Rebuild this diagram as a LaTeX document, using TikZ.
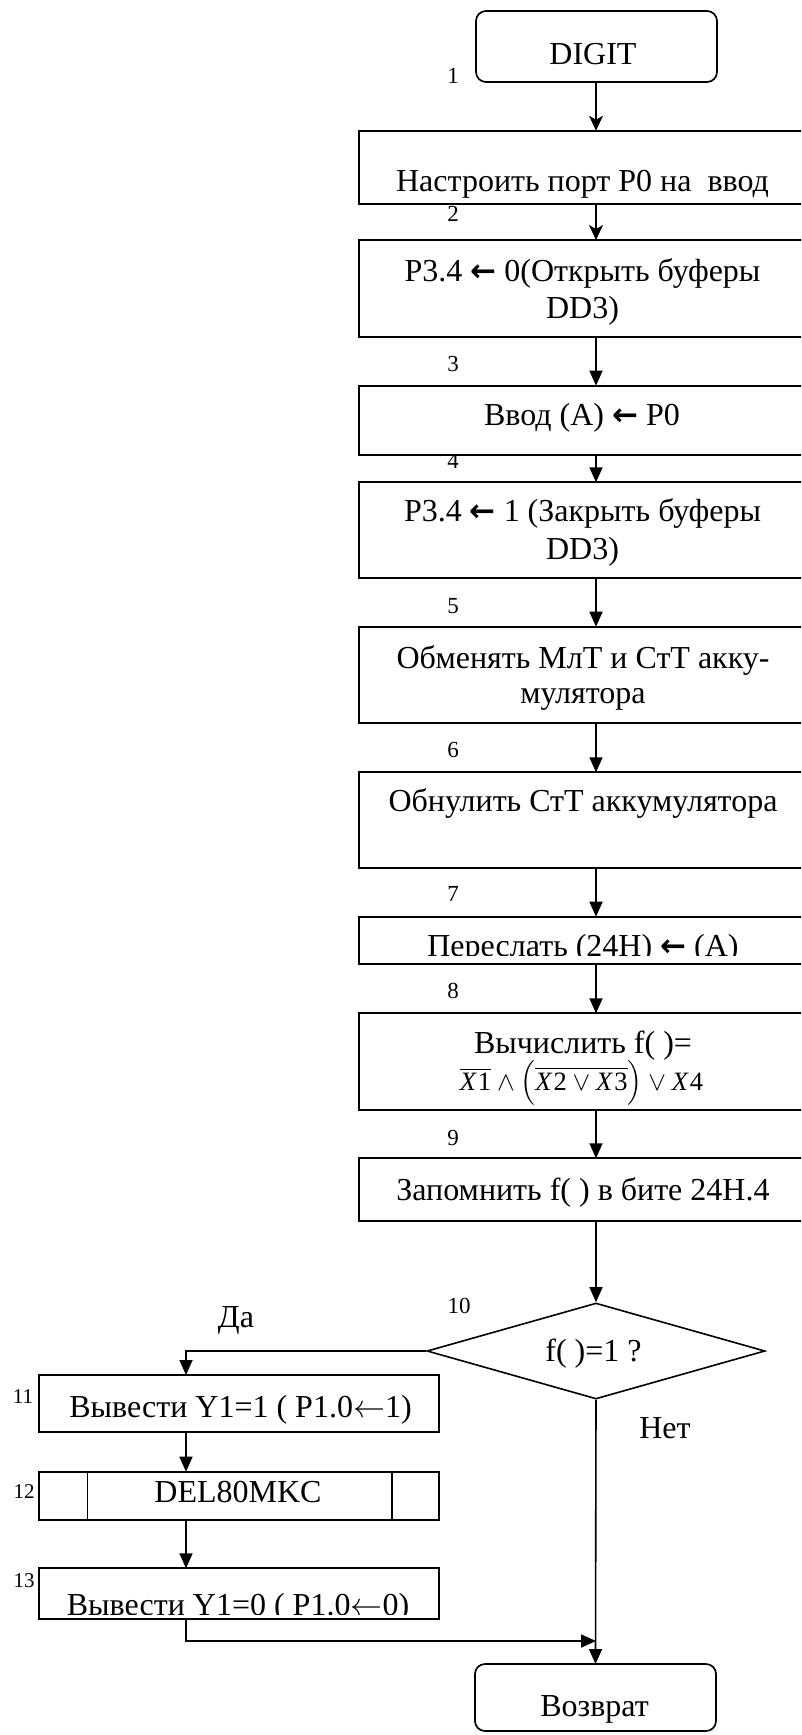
\documentclass[tikz,border=0pt]{standalone}
\usepackage{fix-cm}
\usepackage{amsmath}
\usepackage{graphicx}
\usepackage{fontspec}
\setmainfont{Liberation Serif}
\newfontfamily\dvs{DejaVu Sans}
\usetikzlibrary{arrows.meta,shapes.geometric}

% heavy arrow used inside the process boxes
\newcommand{\larr}{{\dvs\bfseries\fontsize{31}{34}\selectfont ←}}
% a variable name with an index, for the formula
\newcommand{\xvar}[1]{\hbox{\textit{X}\kern1pt#1}}

% rectangle node given by its corners: [style]{name}{x1}{y1}{x2}{y2}
\newcommand{\mkbox}[6][stepbox]{%
  \pgfmathsetmacro{\bcx}{(#3+#5)/2}\pgfmathsetmacro{\bcy}{(#4+#6)/2}%
  \pgfmathsetmacro{\bw}{#5-#3}\pgfmathsetmacro{\bh}{#6-#4}%
  \node[#1, minimum width=\bw pt, minimum height=\bh pt] (#2) at (\bcx,\bcy) {};}

\begin{document}
\begin{tikzpicture}[x=1pt,y=-1pt,
  stepbox/.style={draw, rectangle, line width=1.7pt, fill=white, inner sep=0pt, outer sep=0pt},
  termbox/.style={stepbox, rounded corners=10pt},
  decision/.style={draw, shape=diamond, line width=1.6pt, fill=white, inner sep=0pt,
    minimum width=338pt, minimum height=96pt},
  conn/.style={line width=1.6pt},
  arr/.style={conn, -{Triangle[length=15pt,width=13pt]}},
  sarr/.style={conn, -{Stealth[length=15pt,width=14pt,inset=4pt]}},
  txt/.style={anchor=base, inner sep=0pt, font=\fontsize{32}{38}\selectfont},
  num/.style={anchor=base, inner sep=0pt, font=\fontsize{23}{27}\selectfont},
  snum/.style={anchor=base, inner sep=0pt, font=\fontsize{21}{25}\selectfont},
]
\useasboundingbox (0,0) rectangle (801,1735);
\clip (0,0) rectangle (801,1735);

% step numbers
\node[num] (n1) at (453,83.3) {1};
\node[num] (n2) at (453,221.5) {2};
\node[num] (n3) at (453,371.5) {3};
\node[num] (n4) at (453,468) {4};
\node[num] (n5) at (453,613) {5};
\node[num] (n6) at (453,757) {6};
\node[num] (n7) at (453,901.5) {7};
\node[num] (n8) at (453,998) {8};
\node[num] (n9) at (453,1145) {9};
\node[num] (n10) at (459,1313) {10};
\node[snum] (n11) at (23,1403) {11};
\node[snum] (n12) at (24,1498) {12};
\node[snum] (n13) at (24,1587) {13};

% blocks
\mkbox[termbox]{b1}{476}{11}{717}{82}
\mkbox{b2}{359.3}{130.7}{806}{204.3}
\mkbox{b3}{359.3}{240}{806}{336.7}
\mkbox{b4}{359.3}{385.7}{806}{455}
\mkbox{b5}{359.3}{482.3}{806}{578.3}
\mkbox{b6}{359.3}{626.7}{806}{723.3}
\mkbox{b7}{359.3}{772.3}{806}{868.3}
\mkbox{b8}{359.3}{916.7}{806}{964.3}
\mkbox{b9}{359.3}{1013.3}{806}{1110}
\mkbox{b10}{359.3}{1158.3}{806}{1220.7}
\node[decision] (d) at (596,1351) {};
\mkbox{b11}{39}{1375}{439}{1431.7}
\mkbox{b12}{39}{1471.7}{439}{1520}
\mkbox{b13}{39}{1568.3}{439}{1619}
\mkbox[termbox]{end}{475}{1664}{716}{1731}

% side bars of the predefined-process block
\draw[conn] ([xshift=48.3pt]b12.north west) -- ([xshift=48.3pt]b12.south west);
\draw[conn] ([xshift=-47.3pt]b12.north east) -- ([xshift=-47.3pt]b12.south east);

% texts
\node[txt] (t1) at (593,64) {DIGIT};
\node[txt] (t2) at (582.5,191.5) {Настроить порт P0 на~ ввод};
\node[txt] (t3a) at (582.5,281.7) {P3.4 \larr{} 0(Открыть буферы};
\node[txt] (t3b) at (582.5,318.3) {DD3)};
\node[txt] (t4) at (582,425) {Ввод (A) \larr{} P0};
\node[txt] (t5a) at (582.5,521.7) {P3.4 \larr{} 1 (Закрыть буферы};
\node[txt] (t5b) at (582.5,559.3) {DD3)};
\node[txt] (t6a) at (583,668.3) {Обменять МлТ и СтТ акку-};
\node[txt] (t6b) at (583,703.3) {мулятора};
\node[txt] (t7) at (583,811.7) {Обнулить СтТ аккумулятора};
\begin{scope}
  \clip (b8.north west) rectangle ([yshift=9.3pt]b8.south east);
  \node[txt] (t8) at (583,956.6) {Переслать (24H) \larr{} (A)};
\end{scope}
\node[txt] (t9a) at (583,1053.3) {Вычислить f( )=};
\node[txt, font=\fontsize{26.5}{30}\selectfont] (t9b) at (581.5,1090)
  {$\overline{\xvar{1}}\wedge\Bigl(\overline{\xvar{2}\vee\xvar{3}}\Bigr)\vee\xvar{4}$};
\node[txt] (t10) at (583,1200) {Запомнить f( ) в бите 24H.4};
\node[txt] (td) at (593.5,1361) {f( )=1 ?};
\node[txt] (yes) at (236,1327) {Да};
\node[txt] (no) at (665,1438) {Нет};
\node[txt] (t11) at (240.5,1417.3) {Вывести Y1=1 ( P1.0$\leftarrow$1)};
\node[txt] (t12) at (238,1502.3) {DEL80MKC};
\begin{scope}
  \clip (b13.north west) rectangle ([yshift=5pt]b13.south east);
  \node[txt] (t13) at (238,1615) {Вывести Y1=0 ( P1.0$\leftarrow$0)};
\end{scope}
\node[txt] (t14) at (594.5,1716.7) {Возврат};

% flow lines
\coordinate (mx) at (596,0);
\coordinate (lx) at (186,0);
\coordinate (jn) at (596,1641);
\draw[sarr] (b1.south -| mx) -- (b2.north -| mx);
\draw[sarr] (b2.south -| mx) -- (b3.north -| mx);
\draw[arr] (b3.south -| mx) -- (b4.north -| mx);
\draw[arr] (b4.south -| mx) -- (b5.north -| mx);
\draw[arr] (b5.south -| mx) -- (b6.north -| mx);
\draw[arr] (b6.south -| mx) -- (b7.north -| mx);
\draw[arr] (b7.south -| mx) -- (b8.north -| mx);
\draw[arr] (b8.south -| mx) -- (b9.north -| mx);
\draw[arr] (b9.south -| mx) -- (b10.north -| mx);
\draw[arr] (b10.south -| mx) -- (d.north);
\draw[arr] (d.west) -| (lx |- b11.north);
\draw[arr] (b11.south -| lx) -- (b12.north -| lx);
\draw[arr] (b12.south -| lx) -- (b13.north -| lx);
\draw[arr] (b13.south -| lx) |- (jn);
\draw[arr] (d.south) -- (end.north);
\end{tikzpicture}
\end{document}
